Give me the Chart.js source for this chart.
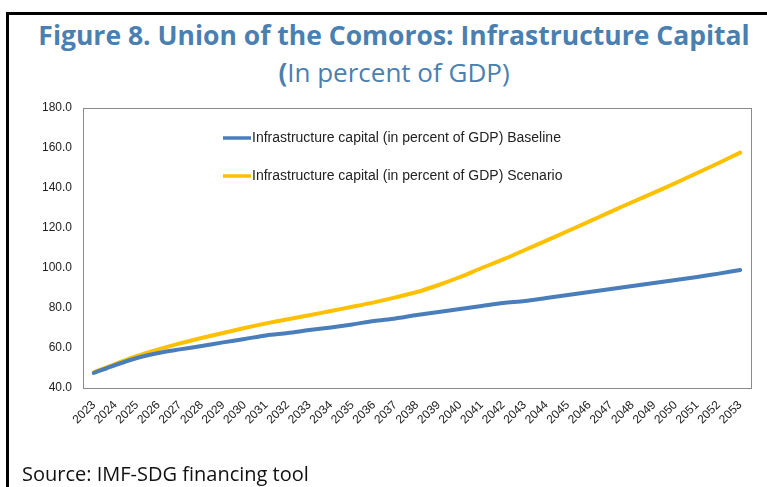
<!DOCTYPE html>
<html>
<head>
<meta charset="utf-8">
<script src="https://cdn.jsdelivr.net/npm/chart.js@4.4.1/dist/chart.umd.min.js"></script>
<style>
  body { margin: 0; background: #fff; width: 767px; height: 487px; overflow: hidden; position: relative; }
  #frame { position: absolute; left: 6px; top: 12px; right: -10px; bottom: -10px; border-left: 3px solid #000; border-top: 3px solid #000; }
  #title { position: absolute; left: 0; width: 788px; top: 17px; text-align: center; color: #4a7fb1;
           font-family: "Open Sans", sans-serif; font-weight: 700; font-size: 26.5px; line-height: 37px; }
  #title .sub { font-weight: 400; font-size: 26px; }
  #source { position: absolute; left: 22px; top: 460px; font-family: "Open Sans", sans-serif; font-size: 20px; color: #111; }
  #wrap { position: absolute; left: 0; top: 0; width: 767px; height: 487px; }
</style>
</head>
<body>
<div id="frame"></div>
<div id="title">Figure 8. Union of the Comoros: Infrastructure Capital<br><span class="sub"><b>(</b>In percent of GDP)</span></div>
<div id="wrap"><canvas id="chart" width="767" height="487"></canvas></div>
<div id="source">Source: IMF-SDG financing tool</div>
<script>
// years 2023-2053
const years = ['2023','2024','2025','2026','2027','2028','2029','2030','2031','2032','2033',
  '2034','2035','2036','2037','2038','2039','2040','2041','2042','2043','2044','2045',
  '2046','2047','2048','2049','2050','2051','2052','2053'];

const baseline = [47.5, 51.5, 55.0, 57.5, 59.3, 61.0, 62.8, 64.5, 66.3, 67.5, 69.0,
  70.3, 71.8, 73.5, 74.8, 76.5, 78.0, 79.5, 81.0, 82.5, 83.5, 85.0, 86.5,
  88.0, 89.5, 91.0, 92.5, 94.0, 95.5, 97.2, 99.0];

const scenario = [48.0, 52.0, 56.0, 59.3, 62.3, 65.0, 67.5, 70.0, 72.3, 74.4, 76.4,
  78.5, 80.6, 82.8, 85.3, 88.0, 91.5, 95.5, 100.0, 104.3, 109.0, 113.7, 118.5,
  123.3, 128.2, 133.0, 137.7, 142.5, 147.5, 152.5, 157.7];

const seriesNames = ['Infrastructure capital (in percent of GDP) Baseline',
  'Infrastructure capital (in percent of GDP) Scenario'];

const tickFont = { family: '"Liberation Sans Narrow", "Liberation Sans", sans-serif', size: 12 };

// draws the box around the plot and the legend inside it
const plotExtras = {
  id: 'plotExtras',
  afterDraw(chart) {
    const ctx = chart.ctx;
    const a = chart.chartArea;
    ctx.save();
    ctx.strokeStyle = '#8a8a8a';
    ctx.lineWidth = 1;
    ctx.strokeRect(a.left + 0.5, a.top + 0.5, a.right - a.left, a.bottom - a.top);

    ctx.font = '14px "Liberation Sans Narrow", "Liberation Sans", sans-serif';
    ctx.textBaseline = 'middle';
    chart.data.datasets.forEach((ds, i) => {
      const y = a.top + 30 + i * 38;
      ctx.strokeStyle = ds.borderColor;
      ctx.lineWidth = 3.5;
      ctx.beginPath();
      ctx.moveTo(a.left + 140, y);
      ctx.lineTo(a.left + 168, y);
      ctx.stroke();
      ctx.fillStyle = '#222';
      ctx.fillText(ds.label, a.left + 169, y);
    });
    ctx.restore();
  }
};

new Chart(document.getElementById('chart'), {
  type: 'line',
  data: {
    labels: years,
    datasets: [
      { label: seriesNames[0], data: baseline, borderColor: '#4a7ebb', borderWidth: 4,
        pointRadius: 0, tension: 0.3, borderCapStyle: 'round' },
      { label: seriesNames[1], data: scenario, borderColor: '#ffc000', borderWidth: 4,
        pointRadius: 0, tension: 0.3, borderCapStyle: 'round' }
    ]
  },
  options: {
    responsive: false,
    animation: false,
    layout: { padding: { top: 108, left: 0, right: 16, bottom: 36 } },
    plugins: { legend: { display: false }, tooltip: { enabled: false } },
    scales: {
      x: {
        offset: true,
        grid: { display: false },
        border: { display: false },
        ticks: { font: tickFont, color: '#222', maxRotation: 45, minRotation: 45, autoSkip: false, padding: 2 },
        afterFit(s) { s.height = 63; }
      },
      y: {
        min: 40, max: 180,
        grid: { display: false },
        border: { display: false },
        ticks: { stepSize: 20, font: tickFont, color: '#222', padding: 3,
          callback: v => v.toFixed(1) },
        afterFit(s) { s.width = 83; }
      }
    }
  },
  plugins: [plotExtras]
});
</script>
</body>
</html>
